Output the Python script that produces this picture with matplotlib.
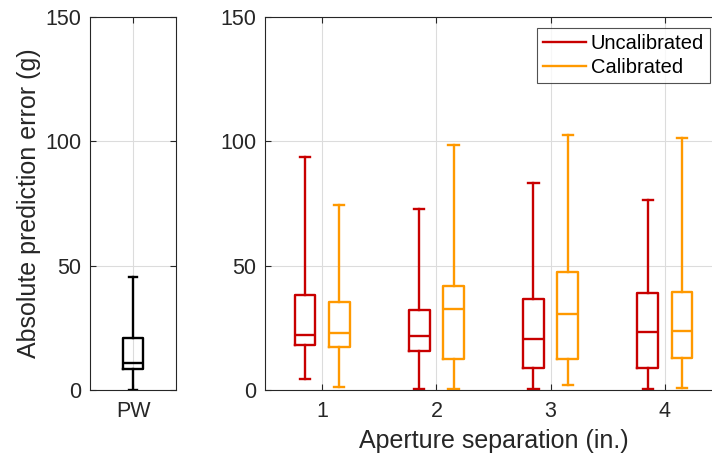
import matplotlib
matplotlib.use("Agg")
import matplotlib.pyplot as plt
from matplotlib.lines import Line2D

plt.rcParams['font.family'] = ['Liberation Sans', 'DejaVu Sans']

# Box statistics (g): lower whisker, Q1, median, Q3, upper whisker
separations = [1, 2, 3, 4]
separation_labels = ['1', '2', '3', '4']

uncal_whislo = [4.3, 0.3, 0.4, 0.3]
uncal_q1 = [18.0, 15.8, 8.7, 8.8]
uncal_med = [22.2, 21.7, 20.5, 23.3]
uncal_q3 = [38.1, 32.0, 36.5, 39.0]
uncal_whishi = [93.8, 72.9, 83.2, 76.5]

cal_whislo = [1.1, 0.5, 2.1, 0.9]
cal_q1 = [17.1, 12.6, 12.3, 12.8]
cal_med = [23.0, 32.4, 30.4, 23.8]
cal_q3 = [35.3, 41.8, 47.6, 39.4]
cal_whishi = [74.2, 98.7, 102.4, 101.4]

pw_whislo = 0.2
pw_q1 = 8.4
pw_med = 11.0
pw_q3 = 21.1
pw_whishi = 45.5

y_ticks = [0, 50, 100, 150]

RED = '#C80000'
ORANGE = '#FF9900'
AXCOL = '#262626'
GRIDCOL = '#DCDCDC'
TICK_FS = 15.5
LABEL_FS = 18


def make_stats(lo, q1, med, q3, hi):
    return [dict(whislo=a, q1=b, med=c, q3=d, whishi=e, fliers=[])
            for a, b, c, d, e in zip(lo, q1, med, q3, hi)]


def style_axes(ax):
    for s in ax.spines.values():
        s.set_color(AXCOL)
        s.set_linewidth(0.8)
    ax.tick_params(direction='in', length=4, width=0.8, colors=AXCOL,
                   labelsize=TICK_FS, labelcolor=AXCOL,
                   top=True, right=True, pad=6)
    ax.set_ylim(0, 150)
    ax.set_yticks(y_ticks)
    ax.grid(True, color=GRIDCOL, linewidth=0.8)
    ax.set_axisbelow(True)


def draw(ax, stats, positions, color, width, capw):
    lp = dict(color=color, linewidth=1.7)
    ax.bxp(stats, positions=positions, widths=width, capwidths=capw,
           showfliers=False, manage_ticks=False,
           boxprops=lp, whiskerprops=lp, capprops=lp,
           medianprops=dict(color=color, linewidth=1.7))


fig = plt.figure(figsize=(7.12, 4.65), dpi=100)

# Pairwise model panel
ax1 = fig.add_axes([90 / 712, 1 - 390 / 465, 86 / 712, 373 / 465])
style_axes(ax1)
pw_stats = make_stats([pw_whislo], [pw_q1], [pw_med], [pw_q3], [pw_whishi])
draw(ax1, pw_stats, [1], 'black', 0.23, 0.1)
ax1.set_xlim(0.5, 1.5)
ax1.set_xticks([1])
ax1.set_xticklabels(['PW'])
ax1.tick_params(axis='x', pad=8)
ax1.set_ylabel('Absolute prediction error (g)', fontsize=LABEL_FS,
               color=AXCOL, labelpad=3)

# Aperture separation panel
ax2 = fig.add_axes([265 / 712, 1 - 390 / 465, 457 / 712, 373 / 465])
style_axes(ax2)
off = 0.15
draw(ax2, make_stats(uncal_whislo, uncal_q1, uncal_med, uncal_q3, uncal_whishi),
     [s - off for s in separations], RED, 0.18, 0.09)
draw(ax2, make_stats(cal_whislo, cal_q1, cal_med, cal_q3, cal_whishi),
     [s + off for s in separations], ORANGE, 0.18, 0.09)
ax2.set_xlim(0.5, 4.5)
ax2.set_xticks(separations)
ax2.set_xticklabels(separation_labels)
ax2.tick_params(axis='x', pad=8)
ax2.set_xlabel('Aperture separation (in.)', fontsize=LABEL_FS, color=AXCOL,
               labelpad=5)

handles = [Line2D([], [], color=RED, linewidth=1.7),
           Line2D([], [], color=ORANGE, linewidth=1.7)]
leg = ax2.legend(handles, ['Uncalibrated', 'Calibrated'],
                 loc='upper right', bbox_to_anchor=(710 / 712, 1 - 28 / 465),
                 bbox_transform=fig.transFigure, fontsize=14.5,
                 frameon=True, fancybox=False, handlelength=2.1,
                 handletextpad=0.25, borderpad=0.3, labelspacing=0.25,
                 borderaxespad=0)
leg.get_frame().set_edgecolor(AXCOL)
leg.get_frame().set_linewidth(0.8)

fig.savefig('out.png', dpi=100)
